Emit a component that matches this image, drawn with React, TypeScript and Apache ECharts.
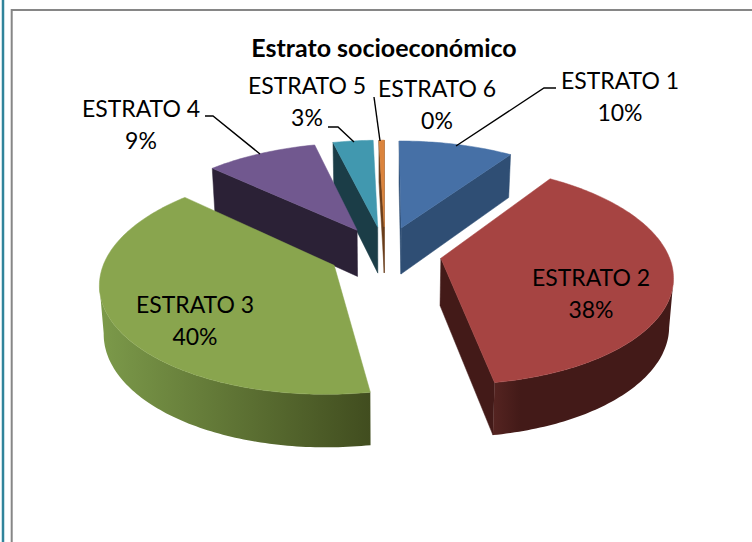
import React, { useEffect, useRef } from "react";
import * as echarts from "echarts";

const categories = ["ESTRATO 1", "ESTRATO 2", "ESTRATO 3", "ESTRATO 4", "ESTRATO 5", "ESTRATO 6"];
const values = [9.55, 37.8, 39.55, 9.3, 3.35, 0.45];
const chartTitle = "Estrato socioeconómico";

const topColors = ["#4670A6", "#A64442", "#89A54E", "#71588F", "#4198AF", "#DB843D"];
const wallLeft = ["#2F4E74", "#552421", "#7C9A4A", "#2B2136", "#1B3D47", "#9A5B28"];
const wallRight = ["#2F4E74", "#431A18", "#414D1F", "#2B2136", "#1B3D47", "#6B3F1C"];
const wallFade = [1, 0.15, 1, 1, 1, 1];
const drawOrder = [4, 3, 5, 0, 2, 1];

const FONT = "Lato";
const labelCenters = [[620, 95.5], [591, 292.5], [195, 319.5], [141, 124], [307, 101], [437, 103.5]];
const leaders = [
  [[456, 146], [544, 88], [556, 88]],
  null,
  null,
  [[205, 116], [213, 116], [260, 154]],
  [[328, 127], [338, 127], [354, 142]],
  [[374, 97], [380, 141]],
];

// perspective projection of the tilted, exploded pie
const CX = 385, CY = 252.5, A = 227, B = 106.2, K = 0.145, E = 0.25;
const rad = (d: number) => (d * Math.PI) / 180;
const total = values.reduce((s, v) => s + v, 0);
const project = (X: number, Y: number) => {
  const den = 1 + K * Y;
  return [CX + (A * X) / den, CY - (B * Y) / den];
};

function wedge(i: number) {
  const before = values.slice(0, i).reduce((s, v) => s + v, 0);
  const a0 = (before / total) * 360;
  const a1 = ((before + values[i]) / total) * 360;
  const mid = rad((a0 + a1) / 2);
  const ox = E * Math.sin(mid);
  const oy = E * Math.cos(mid);
  const rim = (deg: number) => project(ox + Math.sin(rad(deg)), oy + Math.cos(rad(deg)));
  return { a0, a1, apex: project(ox, oy), rim };
}
const drop = (p: number[]) => [CX + (p[0] - CX) * 0.985, p[1] + 43 + 0.042 * (p[1] - 155)];

function poly(points: number[][], fill: any, z2: number) {
  return {
    type: "polygon",
    z2,
    shape: { points },
    style: { fill, stroke: typeof fill === "string" ? fill : undefined, lineWidth: 0.5 },
  };
}

function renderItem(params: any, api: any) {
  const i = drawOrder[params.dataIndex];
  const { a0, a1, apex, rim } = wedge(i);
  const z = params.dataIndex * 10 + 1;
  const arc: number[][] = [];
  const steps = Math.max(4, Math.ceil(a1 - a0));
  for (let s = 0; s <= steps; s++) arc.push(rim(a0 + ((a1 - a0) * s) / steps));
  const first = arc[0];
  const last = arc[arc.length - 1];
  const children: any[] = [];
  const wallFill =
    wallLeft[i] === wallRight[i]
      ? wallLeft[i]
      : new echarts.graphic.LinearGradient(0, 0, 1, 0, [
          { offset: 0, color: wallLeft[i] },
          { offset: wallFade[i], color: wallRight[i] },
          { offset: 1, color: wallRight[i] },
        ]);
  // radial walls that face the viewer
  if (first[0] < apex[0]) children.push(poly([apex, first, drop(first), drop(apex)], wallRight[i], z));
  if (last[0] > apex[0]) children.push(poly([apex, last, drop(last), drop(apex)], wallRight[i], z));
  // outer wall between the horizontal extremes of the near side of the rim
  if (a1 > 90 && a0 < 270) {
    let iMin = 0;
    let iMax = 0;
    arc.forEach((p, s) => {
      if (p[0] < arc[iMin][0]) iMin = s;
      if (p[0] > arc[iMax][0]) iMax = s;
    });
    const near = arc.slice(Math.min(iMin, iMax), Math.max(iMin, iMax) + 1);
    children.push(poly([...near, ...near.map(drop).reverse()], wallFill, z + 1));
  }
  // top face
  children.push(poly([apex, ...arc], topColors[i], z + 2));
  // label
  const pct = Math.round((values[i] / total) * 100);
  children.push({
    type: "text",
    z2: 200,
    style: {
      text: `${categories[i]}\n${pct}%`,
      x: labelCenters[i][0],
      y: labelCenters[i][1],
      align: "center",
      verticalAlign: "middle",
      font: `23px ${FONT}`,
      lineHeight: 32,
      fill: "#000",
    },
  });
  const lead = leaders[i];
  if (lead) {
    children.push({
      type: "polyline",
      z2: 190,
      shape: { points: lead },
      style: { stroke: "#000", lineWidth: 1.4, fill: "none" },
    });
  }
  return { type: "group", children };
}

export default function App() {
  const ref = useRef<HTMLDivElement>(null);
  useEffect(() => {
    const chart = echarts.init(ref.current!, undefined, { renderer: "svg" });
    chart.setOption({
      animation: false,
      backgroundColor: "#fff",
      title: {
        text: chartTitle,
        left: 379,
        top: 29,
        textAlign: "center",
        textStyle: { fontFamily: FONT, fontWeight: "bold", fontSize: 25, color: "#000" },
      },
      graphic: [
        { type: "line", shape: { x1: 3, y1: 0, x2: 3, y2: 542 }, style: { stroke: "#31849B", lineWidth: 2.5 } },
        { type: "line", shape: { x1: 11, y1: 10, x2: 752, y2: 10 }, style: { stroke: "#868686", lineWidth: 2 } },
        { type: "line", shape: { x1: 11.7, y1: 9, x2: 11.7, y2: 542 }, style: { stroke: "#868686", lineWidth: 2 } },
      ],
      series: [
        {
          type: "custom",
          coordinateSystem: "none",
          renderItem,
          data: drawOrder.map((i) => ({ name: categories[i], value: values[i] })),
        },
      ],
    });
    return () => chart.dispose();
  }, []);
  return <div ref={ref} style={{ position: "absolute", left: 0, top: 0, width: 752, height: 542 }} />;
}
